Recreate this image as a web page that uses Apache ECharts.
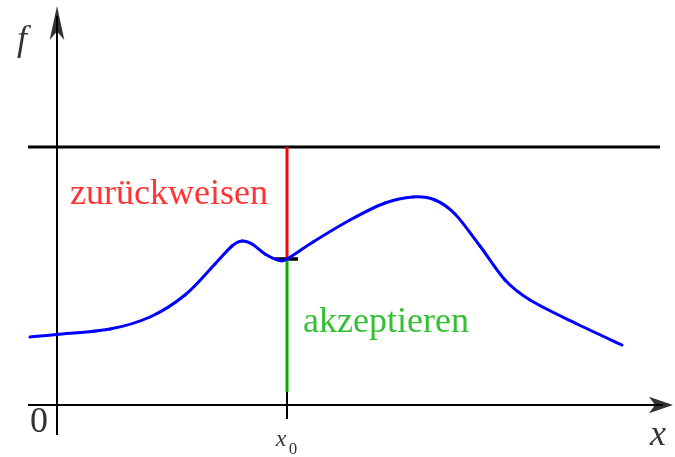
<!DOCTYPE html>
<html>
<head>
<meta charset="utf-8">
<script src="https://cdn.jsdelivr.net/npm/echarts@6/dist/echarts.min.js"></script>
<style>
  html, body { margin: 0; padding: 0; background: #fff; }
  #chart { width: 675px; height: 457px; }
</style>
</head>
<body>
<div id="chart"></div>
<script>
// Density curve f(x) sampled at these x positions
const curveX = [-0.27, 0.00, 0.53, 0.93, 1.28, 1.58, 1.75, 1.85, 1.95, 2.08, 2.21, 2.30,
                2.56, 2.93, 3.28, 3.56, 3.78, 3.98, 4.23, 4.48, 4.73, 5.18, 5.65];
const curveY = [0.68, 0.705, 0.76, 0.88, 1.10, 1.41, 1.59, 1.64, 1.61, 1.51, 1.45, 1.46,
                1.63, 1.85, 2.02, 2.08, 2.05, 1.91, 1.59, 1.25, 1.05, 0.82, 0.60];

// Acceptance threshold (upper bound drawn as horizontal line) and the test point
const threshold = 2.58;
const x0 = 2.30;
const fAtX0 = 1.46;
const acceptBottom = 0.13;

// Extents of the coordinate frame (arrow tips at the far ends)
const xStart = -0.29, xTip = 6.16, lineEnd = 6.03;
const yStart = -0.30, yTip = 3.99;

// Text annotations: [x, y, text, style key]
const labels = [
  [-0.35, 3.64, 'f', 'axisItalic'],
  [-0.18, -0.18, '0', 'axisUpright'],
  [6.01, -0.31, 'x', 'axisItalic'],
  [2.24, -0.35, 'x', 'subItalic'],
  [2.36, -0.45, '0', 'subDigit'],
  [1.12, 2.10, 'zurückweisen', 'reject'],
  [3.29, 0.82, 'akzeptieren', 'accept']
];

const serif = '"Liberation Serif", "Times New Roman", serif';
const labelStyles = {
  axisItalic: { fontSize: 36, fontStyle: 'italic', color: '#000' },
  axisUpright: { fontSize: 36, color: '#000' },
  subItalic: { fontSize: 24, fontStyle: 'italic', color: '#000' },
  subDigit: { fontSize: 17, color: '#000' },
  reject: { fontSize: 36, color: '#ff0000' },
  accept: { fontSize: 36, color: '#00b000' }
};

const curveData = curveX.map((x, i) => [x, curveY[i]]);

function seg(points, color, width, z) {
  return {
    type: 'line', data: points, symbol: 'none', silent: true, z: z || 2,
    lineStyle: { color: color, width: width, cap: 'butt' }
  };
}

// Each sample draws the Catmull-Rom segment that leads to the next sample
function renderCurveSegment(params, api) {
  const i = params.dataIndex;
  const n = curveData.length;
  if (i >= n - 1) return null;
  const p0 = api.coord(curveData[Math.max(i - 1, 0)]);
  const p1 = api.coord(curveData[i]);
  const p2 = api.coord(curveData[i + 1]);
  const p3 = api.coord(curveData[Math.min(i + 2, n - 1)]);
  return {
    type: 'bezierCurve',
    shape: {
      x1: p1[0], y1: p1[1], x2: p2[0], y2: p2[1],
      cpx1: p1[0] + (p2[0] - p0[0]) / 6, cpy1: p1[1] + (p2[1] - p0[1]) / 6,
      cpx2: p2[0] - (p3[0] - p1[0]) / 6, cpy2: p2[1] - (p3[1] - p1[1]) / 6
    },
    style: { stroke: '#0000ff', lineWidth: 3, fill: null, lineCap: 'round' }
  };
}

const chart = echarts.init(document.getElementById('chart'), null, { renderer: 'canvas' });
chart.setOption({
  animation: false,
  backgroundColor: '#ffffff',
  grid: { left: 0, right: 0, top: 0, bottom: 0 },
  xAxis: { type: 'value', min: -0.57, max: 6.18, show: false },
  yAxis: { type: 'value', min: -0.52, max: 4.05, show: false },
  series: [
    // coordinate axes
    seg([[xStart, 0], [xTip - 0.1, 0]], '#000', 2, 2),
    seg([[0, yStart], [0, yTip - 0.1]], '#000', 2, 2),
    {
      type: 'scatter', silent: true, z: 3,
      itemStyle: { color: '#000' },
      data: [
        { value: [xTip, 0], symbol: 'arrow', symbolSize: [12.5, 24], symbolRotate: -90 },
        { value: [0, yTip], symbol: 'arrow', symbolSize: [11, 34], symbolRotate: 0 }
      ]
    },
    // threshold line
    seg([[xStart, threshold], [lineEnd, threshold]], '#000', 3, 2),
    // marker of f(x0)
    seg([[x0 - 0.12, fAtX0], [x0 + 0.11, fAtX0]], '#000', 3.5, 2),
    // rejection and acceptance parts at x0
    seg([[x0, fAtX0], [x0, threshold]], '#ff0000', 3, 3),
    seg([[x0, acceptBottom], [x0, fAtX0]], '#00b000', 3, 3),
    // tick at x0 on the x axis
    seg([[x0, acceptBottom], [x0, -0.14]], '#000', 2, 2),
    // density curve
    {
      type: 'custom', coordinateSystem: 'cartesian2d', silent: true, z: 4,
      data: curveData, encode: { x: 0, y: 1 },
      renderItem: renderCurveSegment
    },
    // text labels
    {
      type: 'scatter', silent: true, z: 5, symbolSize: 0,
      data: labels.map(l => ({
        value: [l[0], l[1]],
        label: Object.assign({
          show: true, position: 'inside', formatter: l[2],
          fontFamily: serif, align: 'center', verticalAlign: 'middle'
        }, labelStyles[l[3]])
      }))
    }
  ]
});
</script>
</body>
</html>
